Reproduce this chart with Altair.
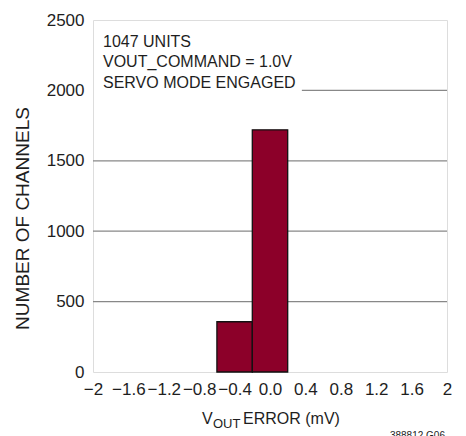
import altair as alt
import pandas as pd

# ---- data ----
bin_start = [-0.6, -0.2]
bin_end = [-0.2, 0.2]
channels = [357, 1720]

grid_y = [500, 1000, 1500, 2000]
grid_x_start = [-2.0, -2.0, -2.0, 0.36]
grid_x_end = [2.0, 2.0, 2.0, 2.0]

x_ticks = [-2, -1.6, -1.2, -0.8, -0.4, 0, 0.4, 0.8, 1.2, 1.6, 2]
y_ticks = [0, 500, 1000, 1500, 2000, 2500]

notes = ["1047 UNITS", "VOUT_COMMAND = 1.0V", "SERVO MODE ENGAGED"]

bars = pd.DataFrame({"x0": bin_start, "x1": bin_end, "n": channels})
grid = pd.DataFrame({"y": grid_y, "xa": grid_x_start, "xb": grid_x_end})

W, H = 354, 352
FONT = "Liberation Sans"
INK = "#1e1e1e"

xs = alt.Scale(domain=[-2, 2], nice=False, zero=False)
ys = alt.Scale(domain=[0, 2500], nice=False)

label_expr = (
    "datum.value == 0 ? '0.0' : (abs(datum.value) > 1.99 ? (datum.value < 0 ? '\u22122' : '2') : "
    "replace(format(datum.value, '.1f'), '-', '\u2212'))"
)

x_axis = alt.Axis(
    values=x_ticks, title=None, domain=False, ticks=False, grid=False,
    labelFont=FONT, labelFontSize=17, labelColor=INK, labelPadding=9,
    labelFlush=False, labelOverlap=False, labelBound=False, labelExpr=label_expr)
y_axis = alt.Axis(
    values=y_ticks, title="NUMBER OF CHANNELS", domain=False, ticks=False, grid=False,
    format="d", labelOverlap=False,
    labelFont=FONT, labelFontSize=17, labelColor=INK, labelPadding=9,
    titleFont=FONT, titleFontSize=19, titleFontWeight="normal", titleColor=INK,
    titleAngle=270, titleX=-61, titleY=198, titleBaseline="bottom", titleAlign="center")

gridlines = alt.Chart(grid).mark_rule(color="#888888", strokeWidth=1.2).encode(
    x=alt.X("xa:Q", scale=xs, axis=x_axis),
    x2="xb:Q",
    y=alt.Y("y:Q", scale=ys, axis=y_axis),
)

barl = alt.Chart(bars).mark_bar(color="#8c0029", stroke="#111111", strokeWidth=1.3).encode(
    x=alt.X("x0:Q", scale=xs, axis=x_axis),
    x2="x1:Q",
    y=alt.Y("n:Q", scale=ys, axis=y_axis),
    y2=alt.datum(0),
)


def label(txt, x, y, size, align="left"):
    return alt.Chart(pd.DataFrame({"t": [txt]})).mark_text(
        align=align, baseline="alphabetic", font=FONT, fontSize=size, color=INK
    ).encode(x=alt.value(x), y=alt.value(y), text="t:N")


note_marks = [label(t, 10, yy, 16) for t, yy in zip(notes, [26.5, 47, 67.5])]

xt1 = label("V", 109, 404, 16)
xt2 = label("OUT", 120, 408, 13)
xt3 = label("ERROR (mV)", 150, 404, 16)
foot = label("388812 G06", 352, 419, 10, align="right")

chart = alt.layer(gridlines, barl, *note_marks, xt1, xt2, xt3, foot).properties(
    width=W, height=H,
    padding={"left": 85, "top": 12, "right": 11, "bottom": 64},
    autosize=alt.AutoSizeParams(type="none"),
).configure_view(stroke="#111111", strokeWidth=1.6).configure(background="white")

chart.save("out.html", embed_options={"renderer": "svg", "actions": False})
